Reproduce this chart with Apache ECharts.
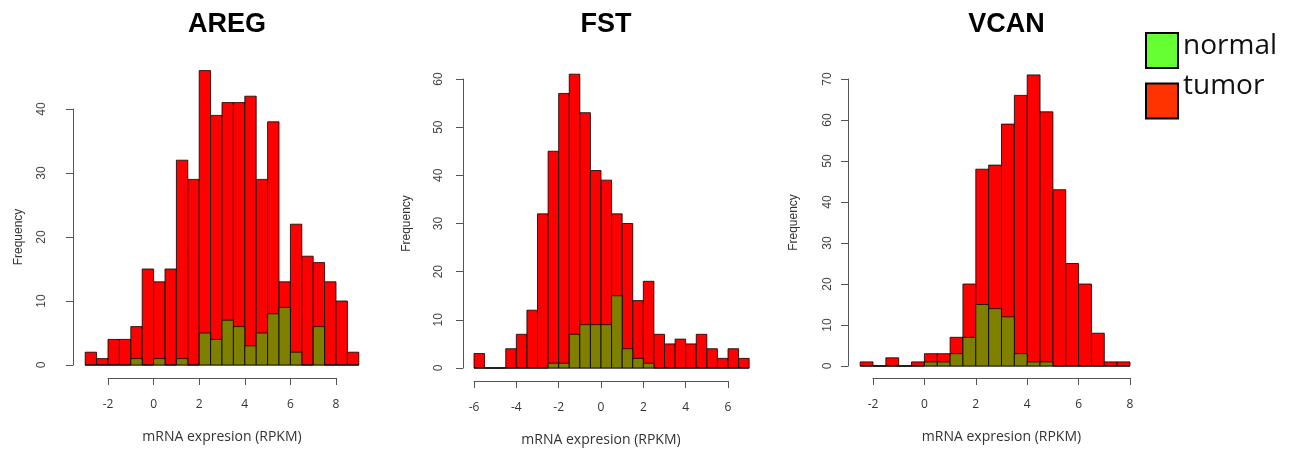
<!DOCTYPE html>
<html>
<head>
<meta charset="utf-8">
<script src="https://cdn.jsdelivr.net/npm/echarts@6/dist/echarts.min.js"></script>
<style>html,body{margin:0;padding:0;background:#fff;}#c{width:1293px;height:452px;}</style>
</head>
<body>
<div id="c"></div>
<script>
// ---- data ----
const titles = ['AREG', 'FST', 'VCAN'];
const binWidth = 0.5;

const aregEdges  = [-3,-2.5,-2,-1.5,-1,-0.5,0,0.5,1,1.5,2,2.5,3,3.5,4,4.5,5,5.5,6,6.5,7,7.5,8,8.5];
const aregTumor  = [2,1,4,4,6,15,13,15,32,29,46,39,41,41,42,29,38,13,22,17,16,13,10,2];
const aregNormal = [0,0,0,0,1,0,1,0,1,0,5,4,7,6,3,5,8,9,2,0,6,0,0,0];

const fstEdges   = [-6,-5.5,-5,-4.5,-4,-3.5,-3,-2.5,-2,-1.5,-1,-0.5,0,0.5,1,1.5,2,2.5,3,3.5,4,4.5,5,5.5,6,6.5];
const fstTumor   = [3,0,0,4,7,12,32,45,57,61,53,41,39,32,30,14,18,7,5,6,5,7,4,2,4,2];
const fstNormal  = [0,0,0,0,0,0,0,1,1,7,9,9,9,15,4,2,1,0,0,0,0,0,0,0,0,0];

const vcanEdges  = [-2.5,-2,-1.5,-1,-0.5,0,0.5,1,1.5,2,2.5,3,3.5,4,4.5,5,5.5,6,6.5,7,7.5];
const vcanTumor  = [1,0,2,0,1,3,3,7,20,48,49,59,66,71,62,43,25,20,8,1,1];
const vcanNormal = [0,0,0,0,0,1,1,3,7,15,14,12,3,1,1,0,0,0,0,0,0];

const xTicks = [[-2, 8], [-6, 6], [-2, 8]];
const yTicks = [[0, 40], [0, 60], [0, 70]];

// ---- layout ----
const grids = [
  {left: 108, top: 109, width: 228, height: 256},
  {left: 474, top: 79,  width: 254, height: 291},
  {left: 873, top: 79,  width: 257, height: 287}
];
const yOffsets = [35, 11, 25];
const xOffsets = [13, 13, 12];
const yLabelMargins = [25, 18, 14];
const yNameGaps = [48, 50, 48];

const TUMOR = '#ff0000', NORMAL = '#808000';

function bins(edges, counts) {
  return edges.map((e, i) => [e, e + binWidth, counts[i]]);
}
function makeRender(color) {
  return function (params, api) {
    const p0 = api.coord([api.value(0), 0]);
    const p1 = api.coord([api.value(1), api.value(2)]);
    return {
      type: 'rect',
      shape: {x: p0[0], y: p1[1], width: p1[0] - p0[0], height: p0[1] - p1[1]},
      style: {fill: color, stroke: '#000', lineWidth: 0.8}
    };
  };
}

const panels = [
  [aregEdges, aregTumor, aregNormal],
  [fstEdges, fstTumor, fstNormal],
  [vcanEdges, vcanTumor, vcanNormal]
];

function legendStyle(spacer) {
  return {
    rich: {
      t: {fontFamily: 'Open Sans', fontSize: 28, color: '#111', lineHeight: 34},
      s: {fontSize: 2, lineHeight: spacer, height: spacer}
    }
  };
}

const option = {
  animation: false,
  backgroundColor: '#fff',
  title: titles.map((t, i) => ({
    text: t,
    left: grids[i].left + grids[i].width / 2,
    textAlign: 'center',
    top: 6,
    textStyle: {fontFamily: 'Liberation Sans', fontWeight: 'bold', fontSize: 27, color: '#000'}
  })),
  legend: [
    {
      left: 1140, top: 27,
      itemWidth: 32, itemHeight: 35, itemGap: 10,
      selectedMode: false,
      formatter: n => '{t|' + n + '}\n{s| }',
      textStyle: legendStyle(8),
      data: [{name: 'normal', icon: 'rect', itemStyle: {color: '#66ff33', borderColor: '#000', borderWidth: 2}}]
    },
    {
      left: 1140, top: 67,
      itemWidth: 32, itemHeight: 35, itemGap: 10,
      selectedMode: false,
      formatter: n => '{t|' + n + '}\n{s| }',
      textStyle: legendStyle(30),
      data: [{name: 'tumor', icon: 'rect', itemStyle: {color: '#ff3300', borderColor: '#000', borderWidth: 2}}]
    }
  ],
  grid: grids.map(g => Object.assign({}, g)),
  xAxis: grids.map((g, i) => ({
    type: 'value', gridIndex: i,
    min: xTicks[i][0], max: xTicks[i][1], interval: 2,
    offset: xOffsets[i],
    name: 'mRNA expresion (RPKM)', nameLocation: 'middle', nameGap: 52,
    nameTextStyle: {fontFamily: 'Open Sans', fontSize: 14, color: '#333'},
    axisLine: {show: true, onZero: false, lineStyle: {color: '#555', width: 1}},
    axisTick: {show: true, length: 7, lineStyle: {color: '#555'}},
    axisLabel: {margin: 21, fontFamily: 'Open Sans', fontSize: 12, color: '#333'},
    splitLine: {show: false}
  })),
  yAxis: grids.map((g, i) => ({
    type: 'value', gridIndex: i,
    min: yTicks[i][0], max: yTicks[i][1], interval: 10,
    offset: yOffsets[i],
    name: 'Frequency', nameLocation: 'middle', nameGap: yNameGaps[i], nameRotate: 90,
    nameTextStyle: {fontFamily: 'Liberation Sans', fontSize: 12, color: '#333'},
    axisLine: {show: true, onZero: false, lineStyle: {color: '#555', width: 1}},
    axisTick: {show: true, length: 7, lineStyle: {color: '#555'}},
    axisLabel: {rotate: 90, margin: yLabelMargins[i], fontFamily: 'Liberation Sans', fontSize: 12, color: '#444'},
    splitLine: {show: false}
  })),
  series: []
};

panels.forEach((p, i) => {
  option.series.push({
    type: 'custom', name: 'tumor', xAxisIndex: i, yAxisIndex: i, clip: false,
    renderItem: makeRender(TUMOR), encode: {x: [0, 1], y: 2},
    itemStyle: {color: '#ff3300'},
    data: bins(p[0], p[1])
  });
  option.series.push({
    type: 'custom', name: 'normal', xAxisIndex: i, yAxisIndex: i, clip: false,
    renderItem: makeRender(NORMAL), encode: {x: [0, 1], y: 2},
    itemStyle: {color: '#66ff33'},
    data: bins(p[0], p[2])
  });
});

const chart = echarts.init(document.getElementById('c'), null, {renderer: 'canvas'});
chart.setOption(option);
</script>
</body>
</html>
